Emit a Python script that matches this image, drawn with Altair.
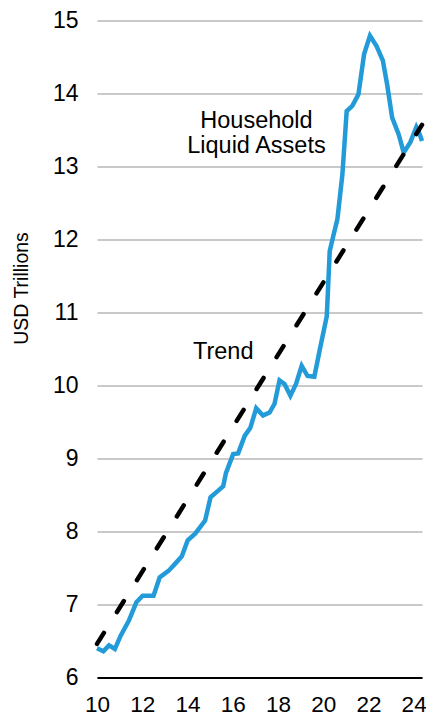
import altair as alt
import pandas as pd

# Household liquid assets (USD trillions)
years = [10.0, 10.28, 10.53, 10.79, 11.04, 11.41, 11.74, 12.02, 12.50, 12.77,
         13.16, 13.46, 13.75, 14.01, 14.34, 14.78, 15.02, 15.36, 15.58, 15.70,
         16.02, 16.24, 16.53, 16.78, 17.04, 17.34, 17.63, 17.85, 18.07, 18.29,
         18.55, 18.80, 19.05, 19.31, 19.61, 19.87, 20.16, 20.29, 20.45, 20.63,
         20.85, 21.04, 21.29, 21.56, 21.81, 22.07, 22.36, 22.64, 22.83, 23.05,
         23.34, 23.56, 23.85, 24.12, 24.27, 24.37]
assets = [6.40, 6.36, 6.44, 6.39, 6.57, 6.78, 7.03, 7.12, 7.12, 7.37,
          7.46, 7.56, 7.66, 7.88, 7.97, 8.15, 8.47, 8.56, 8.62, 8.80,
          9.06, 9.07, 9.31, 9.42, 9.69, 9.59, 9.63, 9.75, 10.07, 10.02,
          9.86, 10.02, 10.27, 10.13, 10.12, 10.52, 10.95, 11.84, 12.05, 12.28,
          12.89, 13.76, 13.83, 13.99, 14.54, 14.79, 14.65, 14.45, 14.12, 13.67,
          13.44, 13.19, 13.33, 13.54, 13.44, 13.35]

trend_years = [10.0, 24.37]
trend_values = [6.46, 13.57]

label_text = ["Household", "Liquid Assets", "Trend"]
label_x = [17.05, 17.05, 15.58]
label_y = [13.53, 13.19, 10.36]

x_ticks = [10, 12, 14, 16, 18, 20, 22, 24]
y_ticks = [6, 7, 8, 9, 10, 11, 12, 13, 14, 15]

FONT = "Liberation Sans"

df = pd.DataFrame({"year": years, "value": assets})
tdf = pd.DataFrame({"year": trend_years, "value": trend_values})
ldf = pd.DataFrame({"year": label_x, "value": label_y, "text": label_text})

xscale = alt.Scale(domain=[10, 24.37], nice=False, zero=False)
yscale = alt.Scale(domain=[6, 15], nice=False, zero=False)

xaxis = alt.Axis(values=x_ticks, format="d", title=None, grid=False, ticks=False,
                 domain=True, domainColor="black", domainWidth=2,
                 labelFontSize=22.5, labelFont=FONT, labelColor="black",
                 labelPadding=16, labelFlush=False, zindex=1)
yaxis = alt.Axis(values=y_ticks, format="d", title="USD Trillions", grid=True,
                 gridColor="#c9c9c9", gridWidth=2, ticks=False, domain=False,
                 labelFontSize=23, labelFont=FONT, labelColor="black", labelPadding=19,
                 titleFont=FONT, titleFontSize=19.5, titleFontWeight="normal",
                 titleColor="black", titleAngle=-90, titleX=-70, titleY=267.5,
                 titleAlign="center", titleBaseline="alphabetic")

line = alt.Chart(df).mark_line(color="#229BD8", strokeWidth=4.5).encode(
    x=alt.X("year:Q", scale=xscale, axis=xaxis),
    y=alt.Y("value:Q", scale=yscale, axis=yaxis),
)

trend = alt.Chart(tdf).mark_line(color="black", strokeWidth=4.5, strokeDash=[13, 24.6],
                                  strokeCap="round").encode(
    x=alt.X("year:Q", scale=xscale),
    y=alt.Y("value:Q", scale=yscale),
)

labels = alt.Chart(ldf).mark_text(font=FONT, fontSize=23.5, color="black",
                                  align="center", baseline="alphabetic").encode(
    x=alt.X("year:Q", scale=xscale),
    y=alt.Y("value:Q", scale=yscale),
    text="text:N",
)

chart = alt.layer(line, trend, labels).properties(
    width=325, height=657,
    autosize=alt.AutoSizeParams(type="none"),
    padding={"left": 89, "top": 12.5, "right": 4, "bottom": 42},
).configure_view(stroke=None)

chart.save("out.html", embed_options={"renderer": "svg", "actions": False})
